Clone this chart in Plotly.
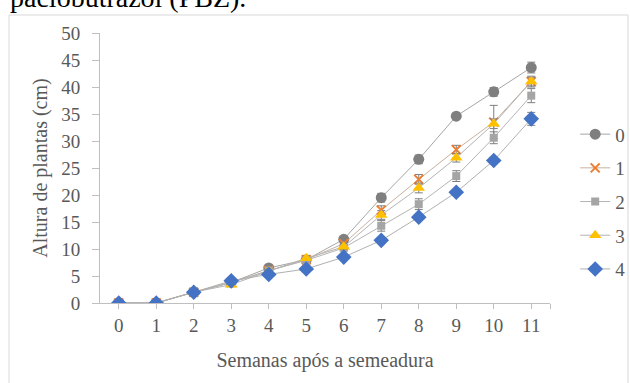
import plotly.graph_objects as go

weeks = [0, 1, 2, 3, 4, 5, 6, 7, 8, 9, 10, 11]
series_names = ["0", "1", "2", "3", "4"]

s0 = [0, 0, 2.0, 3.8, 6.5, 8.0, 11.8, 19.5, 26.6, 34.6, 39.1, 43.6]
s1 = [0, 0, 2.0, 3.8, 6.0, 8.0, 11.0, 17.2, 22.9, 28.4, 33.5, 41.0]
s2 = [0, 0, 2.0, 3.8, 6.0, 7.9, 10.2, 14.3, 18.3, 23.5, 30.6, 38.4]
s3 = [0, 0, 2.0, 3.4, 5.9, 8.3, 10.4, 16.3, 21.3, 26.9, 33.2, 41.0]
s4 = [0, 0, 2.0, 4.1, 5.3, 6.3, 8.5, 11.6, 15.9, 20.5, 26.4, 34.1]

e0 = [0, 0, 0.2, 0.3, 0.4, 0.4, 0.5, 0.8, 0.8, 0.5, 0.8, 1.0]
e1 = [0, 0, 0.2, 0.3, 0.3, 0.4, 0.5, 0.8, 0.9, 0.8, 3.1, 1.0]
e2 = [0, 0, 0.2, 0.3, 0.3, 0.4, 0.5, 1.0, 1.0, 1.0, 1.1, 1.3]
e3 = [0, 0, 0.2, 0.3, 0.3, 0.4, 0.5, 0.8, 0.9, 0.8, 0.9, 0.8]
e4 = [0, 0, 0.2, 0.3, 0.3, 0.3, 0.4, 0.5, 0.5, 0.5, 0.6, 1.2]

values = [s0, s1, s2, s3, s4]
errors = [e0, e1, e2, e3, e4]
symbols = ["circle", "x-thin", "square", "triangle-up", "diamond"]
colors = ["#7f7f7f", "#ed7d31", "#a5a5a5", "#ffc000", "#4472c4"]
sizes = [11, 9, 8, 11, 12]
line_colors = ["#a6a6a6", "#c8b0a0", "#b4b4b4", "#b4b4b4", "#b0b0b0"]

SERIF = "Liberation Serif"
font_c = "#595959"

fig = go.Figure()
for name, v, e, sym, c, sz, lc in zip(series_names, values, errors, symbols, colors, sizes, line_colors):
    marker = dict(symbol=sym, color=c, size=sz)
    if sym == "x-thin":
        marker["line"] = dict(color=c, width=2)
    fig.add_trace(go.Scatter(
        x=weeks, y=v, name=name, mode="lines+markers",
        line=dict(color=lc, width=1),
        marker=marker,
        legendgroup=name,
        error_y=dict(type="data", array=e, visible=True, color="#7f7f7f", thickness=1, width=4),
    ))

fig.update_layout(
    width=630, height=383,
    margin=dict(l=100, r=80, t=33, b=80, autoexpand=False),
    paper_bgcolor="white", plot_bgcolor="white",
    font=dict(family=SERIF, size=19, color=font_c),
    showlegend=True,
    legend=dict(xref="container", yref="container", x=0.913, y=0.699,
                xanchor="left", yanchor="top",
                font=dict(family=SERIF, size=19, color=font_c), tracegroupgap=6,
                bgcolor="rgba(0,0,0,0)"),
    xaxis=dict(range=[-0.5, 11.5], tickvals=weeks + [11.5],
               ticktext=[str(w) for w in weeks] + [""],
               tickfont=dict(family=SERIF, size=19, color=font_c),
               showgrid=False, zeroline=False, showline=True, linecolor="#bfbfbf",
               ticks="outside", ticklen=5, tickcolor="#bfbfbf",
               title=dict(text="Semanas após a semeadura",
                          font=dict(family=SERIF, size=20, color=font_c), standoff=18)),
    yaxis=dict(range=[0, 50], dtick=5, showgrid=False, zeroline=False,
               showline=True, linecolor="#bfbfbf", ticks="outside", ticklen=7,
               tickcolor="#bfbfbf", ticklabelstandoff=8,
               tickfont=dict(family=SERIF, size=19, color=font_c),
               title=dict(text="Altura de plantas (cm)",
                          font=dict(family=SERIF, size=20, color=font_c), standoff=8)),
)

fig.add_shape(type="rect", xref="paper", yref="paper",
              x0=-0.2022, x1=1.1733, y0=-0.33, y1=1.0667,
              line=dict(color="#d9d9d9", width=1), fillcolor="rgba(0,0,0,0)", layer="below")

fig.add_annotation(text="paclobutrazol (PBZ).", xref="paper", yref="paper",
                   x=-0.2044, y=1.131, xanchor="left", yanchor="middle", showarrow=False,
                   font=dict(family=SERIF, size=28, color="black"))

fig.write_html("out.html")
